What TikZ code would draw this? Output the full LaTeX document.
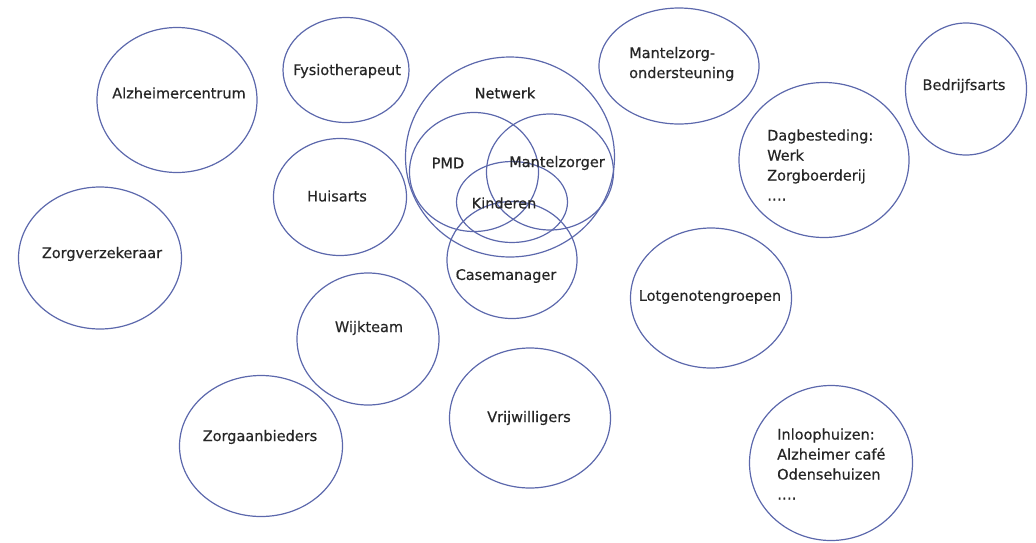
\documentclass[tikz,border=0pt]{standalone}
\usepackage{fontspec}
\setmainfont{DejaVu Sans}
\newfontfamily\labelfont[FakeBold=0.5]{DejaVu Sans}
\usetikzlibrary{shapes.geometric}
\definecolor{ringblue}{RGB}{92,104,172}
\definecolor{inkgrey}{RGB}{38,38,38}
\tikzset{
    bubble/.style={ellipse, draw=ringblue, line width=1.2pt, inner sep=0pt}
}
\tikzset{
    lbl/.style={text=inkgrey, inner sep=0pt, align=left,
    	font=\labelfont\fontsize{14.5}{20}\selectfont}
}

\begin{document}
\begin{tikzpicture}[x=1pt, y=-1pt]
	\useasboundingbox (0,0) rectangle (1036,542);

	% outer ring
	\node (alz) [bubble, minimum width=160, minimum height=145] at (177,100) {};
	\node (fysio) [bubble, minimum width=126, minimum height=105] at (346,70) {};
	\node (huis) [bubble, minimum width=133, minimum height=117] at (340,197) {};
	\node (zorgv) [bubble, minimum width=163, minimum height=142] at (100,258) {};
	\node (wijk) [bubble, minimum width=142, minimum height=132] at (368,339) {};
	\node (zorga) [bubble, minimum width=163, minimum height=141] at (261,446) {};
	\node (vrijw) [bubble, minimum width=161, minimum height=140] at (530,418) {};
	\node (lotg) [bubble, minimum width=161, minimum height=140] at (711,298) {};
	\node (inloop) [bubble, minimum width=163, minimum height=155] at (831,463) {};
	\node (mzo) [bubble, minimum width=160, minimum height=116] at (679,66) {};
	\node (dagb) [bubble, minimum width=170, minimum height=155] at (824,160) {};
	\node (bedr) [bubble, minimum width=121, minimum height=132] at (966,89) {};

	% network in the middle
	\node (netw) [bubble, minimum width=209, minimum height=200] at (510,157) {};
	\node (pmd) [bubble, minimum width=129, minimum height=119] at (474,172) {};
	\node (mzr) [bubble, minimum width=127, minimum height=116] at (550,172) {};
	\node (kind) [bubble, minimum width=111, minimum height=81] at (512,202) {};
	\node (case) [bubble, minimum width=130, minimum height=117] at (512,260) {};

	% texts
	\node (alzt) [lbl] at (179,93) {Alzheimercentrum};
	\node (fysiot) [lbl] at (347,71) {Fysiotherapeut};
	\node (huist) [lbl] at (337,196) {Huisarts};
	\node (zorgvt) [lbl] at (102,254) {Zorgverzekeraar};
	\node (wijkt) [lbl] at (369,328) {Wijkteam};
	\node (zorgat) [lbl] at (260,437) {Zorgaanbieders};
	\node (vrijwt) [lbl] at (529,418) {Vrijwilligers};
	\node (lotgt) [lbl] at (710,297) {Lotgenotengroepen};
	\node (bedrt) [lbl] at (964,86) {Bedrijfsarts};
	\node (netwt) [lbl] at (505,93) {Netwerk};
	\node (pmdt) [lbl] at (448,163) {PMD};
	\node (mzrt) [lbl] at (557,163) {Mantelzorger};
	\node (kindt) [lbl] at (504,203) {Kinderen};
	\node (caset) [lbl] at (506,276) {Casemanager};
	\node (mzot) [lbl, anchor=west] at (629,64) {Mantelzorg-\\ondersteuning};
	\node (dagbt) [lbl, anchor=west] at (767,165) {Dagbesteding:\\Werk\\Zorgboerderij\\….};
	\node (inloopt) [lbl, anchor=west] at (777,464) {Inloophuizen:\\Alzheimer café\\Odensehuizen\\….};
\end{tikzpicture}
\end{document}
